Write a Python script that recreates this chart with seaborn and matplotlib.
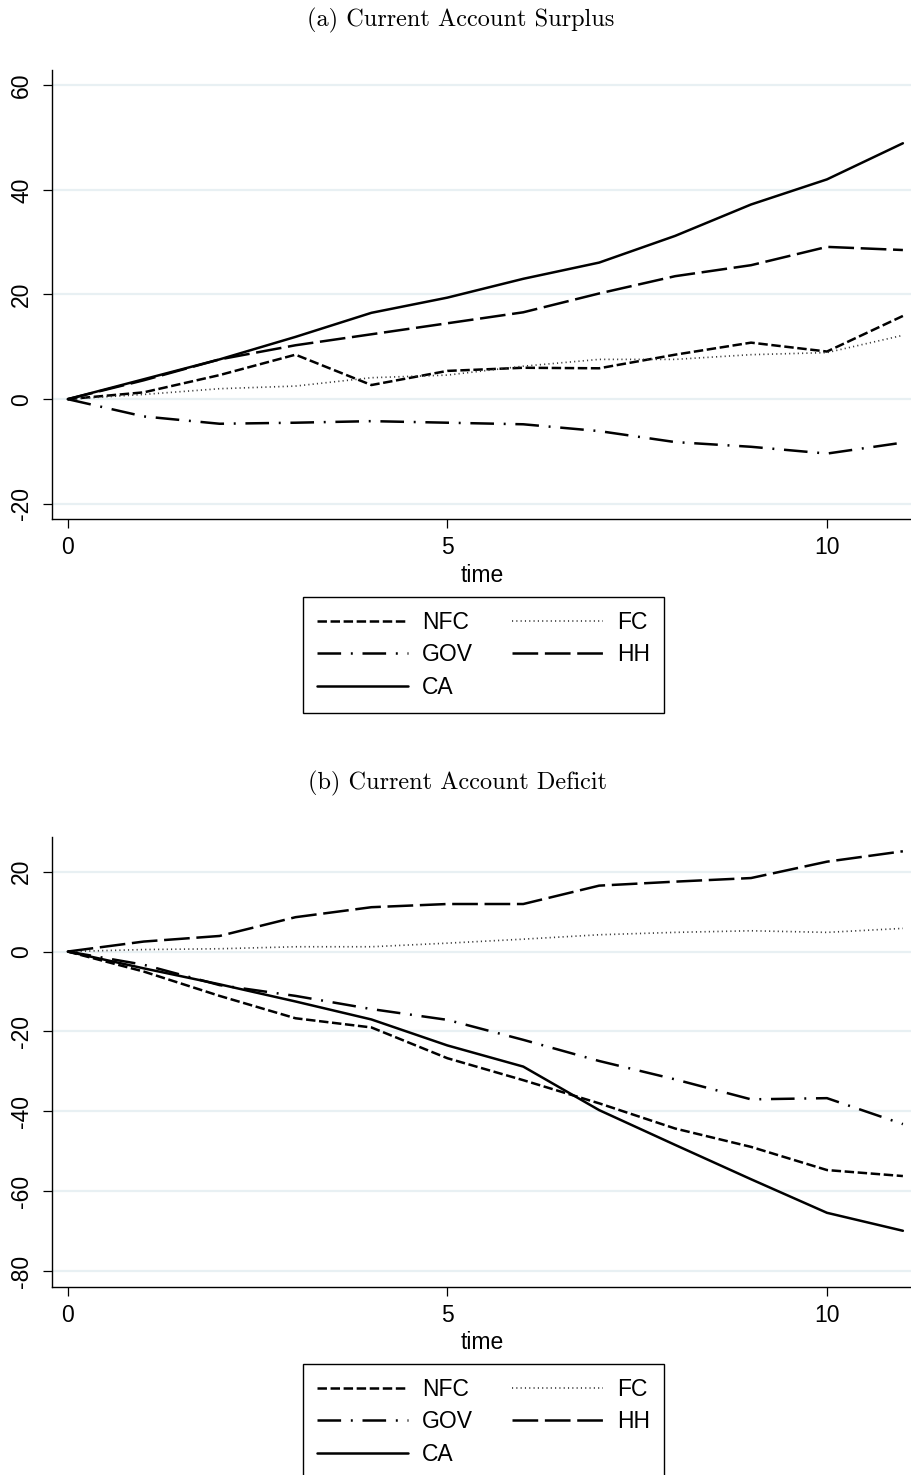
import numpy as np
import pandas as pd
import matplotlib
matplotlib.use("Agg")
import matplotlib.pyplot as plt
import seaborn as sns

# ---- data -----------------------------------------------------------------
time = list(range(12))
sectors = ["NFC", "FC", "GOV", "HH", "CA"]

# (a) current account surplus countries
nfc_a = [0, 1.3, 4.6, 8.5, 2.7, 5.4, 6.0, 5.9, 8.5, 10.8, 9.1, 15.9]
fc_a = [0, 0.9, 2.0, 2.5, 4.1, 4.6, 6.3, 7.6, 7.6, 8.5, 8.9, 12.2]
gov_a = [0, -3.3, -4.7, -4.5, -4.2, -4.5, -4.8, -6.1, -8.2, -9.1, -10.4, -8.3]
hh_a = [0, 3.6, 7.6, 10.3, 12.4, 14.5, 16.6, 20.2, 23.5, 25.6, 29.1, 28.5]
ca_a = [0, 3.8, 7.6, 11.9, 16.5, 19.4, 23.0, 26.1, 31.2, 37.2, 42.0, 48.9]

# (b) current account deficit countries
nfc_b = [0, -5.0, -11.1, -16.7, -19.0, -26.7, -32.2, -38.0, -44.3, -48.9, -54.7, -56.2]
fc_b = [0, 0.5, 0.7, 1.2, 1.2, 2.1, 3.1, 4.2, 4.8, 5.2, 4.8, 5.8]
gov_b = [0, -3.3, -8.4, -11.1, -14.4, -17.1, -22.1, -27.4, -32.0, -37.0, -36.7, -43.2]
hh_b = [0, 2.5, 3.9, 8.6, 11.1, 11.9, 11.9, 16.5, 17.5, 18.4, 22.5, 25.1]
ca_b = [0, -4.2, -8.2, -12.5, -17.0, -23.5, -28.8, -39.7, -48.4, -57.0, -65.4, -69.9]

titles = ["(a) Current Account Surplus", "(b) Current Account Deficit"]
yticks_a = [-20, 0, 20, 40, 60]
yticks_b = [-80, -60, -40, -20, 0, 20]
xticks = [0, 5, 10]

# ---- style ----------------------------------------------------------------
sns.set_theme(style="white")
plt.rcParams["font.family"] = ["Liberation Sans", "DejaVu Sans"]
plt.rcParams["lines.scale_dashes"] = False
for key in ["text.color", "axes.labelcolor", "xtick.color", "ytick.color"]:
    plt.rcParams[key] = "black"

# line styles (dash lengths in points)
styles = {
    "NFC": dict(color="black", lw=1.8, ls=(0, (6.8, 2.6))),
    "FC": dict(color="#333333", lw=1.2, ls=(0, (0.8, 2.3))),
    "GOV": dict(color="black", lw=1.8, ls=(0, (17.0, 7.0, 1.4, 7.0))),
    "HH": dict(color="black", lw=1.8, ls=(0, (18.5, 4.8))),
    "CA": dict(color="black", lw=1.8, ls="-"),
}

W, H = 912, 1475
fig = plt.figure(figsize=(W / 100, H / 100), dpi=100)

left_px, right_px = 52, 912
panels = [
    dict(top=70, bottom=519, ylim=(-22.9, 62.9), yticks=yticks_a,
         data=[nfc_a, fc_a, gov_a, hh_a, ca_a], title_xy=(461, 20), leg_top=597),
    dict(top=837.3, bottom=1286.7, ylim=(-83.9, 28.6), yticks=yticks_b,
         data=[nfc_b, fc_b, gov_b, hh_b, ca_b], title_xy=(458, 783), leg_top=1364),
]

for p, title in zip(panels, titles):
    ax = fig.add_axes([left_px / W, 1 - p["bottom"] / H,
                       (right_px - left_px) / W, (p["bottom"] - p["top"]) / H])
    df = pd.DataFrame({"time": time * len(sectors),
                       "value": sum(p["data"], []),
                       "sector": np.repeat(sectors, len(time))})
    for s in sectors:
        st = styles[s]
        sns.lineplot(data=df[df["sector"] == s], x="time", y="value", ax=ax,
                     color=st["color"], linewidth=st["lw"], linestyle=st["ls"],
                     label=s, dash_capstyle="butt", solid_joinstyle="miter")

    ax.set_xlim(-0.207, 11.12)
    ax.set_ylim(*p["ylim"])
    ax.set_xticks(xticks)
    ax.set_yticks(p["yticks"])
    ax.set_xticklabels([str(t) for t in xticks])
    ax.set_yticklabels([str(t) for t in p["yticks"]])
    ax.grid(axis="y", color="#e8f0f3", linewidth=1.6)
    ax.grid(axis="x", visible=False)
    for side in ["top", "right"]:
        ax.spines[side].set_visible(False)
    for side in ["left", "bottom"]:
        ax.spines[side].set_color("black")
        ax.spines[side].set_linewidth(1.0)
    ax.tick_params(axis="both", which="major", direction="out", length=6.5,
                   width=0.9, color="black", labelsize=16.5, pad=6,
                   labelcolor="black", left=True, bottom=True)
    ax.tick_params(axis="y", labelrotation=90, pad=7)
    for lab in ax.get_yticklabels():
        lab.set_va("center")
    ax.set_xlabel("time", fontsize=16.5, labelpad=3, color="black")
    ax.set_ylabel("")

    fig.text(p["title_xy"][0] / W, 1 - p["title_xy"][1] / H, title,
             family="cmr10", fontsize=17.5, ha="center", va="center",
             color="black")

    handles, labels = ax.get_legend_handles_labels()
    order = ["NFC", "GOV", "CA", "FC", "HH"]
    hmap = dict(zip(labels, handles))
    leg = ax.legend([hmap[k] for k in order], order, ncol=2,
                    loc="upper center",
                    bbox_to_anchor=(483.5 / W, 1 - p["leg_top"] / H),
                    bbox_transform=fig.transFigure, fontsize=16.5,
                    frameon=True, fancybox=False, framealpha=1,
                    edgecolor="black", handlelength=3.97, handletextpad=0.62,
                    columnspacing=1.7, labelspacing=0.42, borderpad=0.6,
                    borderaxespad=0)
    leg.get_frame().set_linewidth(1.0)
    for t in leg.get_texts():
        t.set_color("black")

fig.savefig("out.png", dpi=100, facecolor="white")
